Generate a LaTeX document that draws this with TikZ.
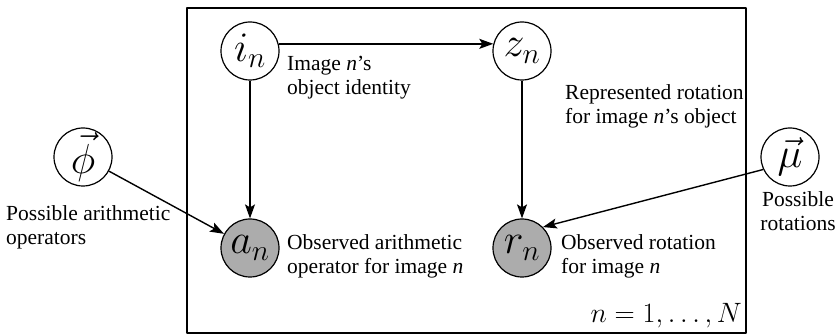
\RequirePackage{fix-cm}
\documentclass[tikz,border=0pt]{standalone}
\usepackage[no-math]{fontspec}
\setmainfont{Liberation Serif}
\usetikzlibrary{arrows.meta}
\definecolor{obsgray}{RGB}{172,172,172}

\begin{document}
\begin{tikzpicture}[x=1pt, y=-1pt, line join=round, >={Stealth[length=14pt,width=10pt,inset=3pt]},
	var/.style={circle, draw, line width=1.2pt, minimum size=58pt, inner sep=0pt, font=\fontsize{42}{42}\selectfont},
	obs/.style={var, fill=obsgray},
	lbl/.style={align=left, inner sep=0pt, font=\fontsize{21.5}{24}\selectfont},
	edge/.style={->, line width=1.4pt}]
	\useasboundingbox (0,0) rectangle (837,336);
	\draw[line width=1.3pt] (187,8) rectangle (746,333);
	% latent and observed variables
	\node[var] (i) at (250,51) {$i_n$};
	\node[var] (z) at (522,51) {$z_n$};
	\node[obs] (a) at (250,248) {$a_n$};
	\node[obs] (r) at (522,248) {$r_n$};
	\node[var] (phi) at (83,157) {$\vec{\phi}$};
	\node[var] (mu) at (790,157) {$\vec{\mu}$};
	% edges
	\draw[edge] (i.14)--(z.166);
	\draw[edge] (i)--(a);
	\draw[edge] (z)--(r);
	\draw[edge] (phi)--(a);
	\draw[edge] (mu.205)--(r.45);
	% descriptions
	\node[lbl, anchor=north west] (itxt) at (287,56) {Image \textit{n}'s\\object identity};
	\node[lbl, anchor=north west] (ztxt) at (565,84) {Represented rotation\\for image \textit{n}'s object};
	\node[lbl, anchor=north west] (atxt) at (287,234) {Observed arithmetic\\operator for image \textit{n}};
	\node[lbl, anchor=north west] (rtxt) at (561,234) {Observed rotation\\for image \textit{n}};
	\node[lbl, anchor=north west] (phitxt) at (6,205) {Possible arithmetic\\operators};
	\node[lbl, align=center, anchor=north] (mutxt) at (798,191) {Possible\\rotations};
	\node[inner sep=0pt, anchor=base east, font=\fontsize{28}{28}\selectfont] (plate) at (742,323) {$n=1,\ldots,N$};
\end{tikzpicture}
\end{document}
